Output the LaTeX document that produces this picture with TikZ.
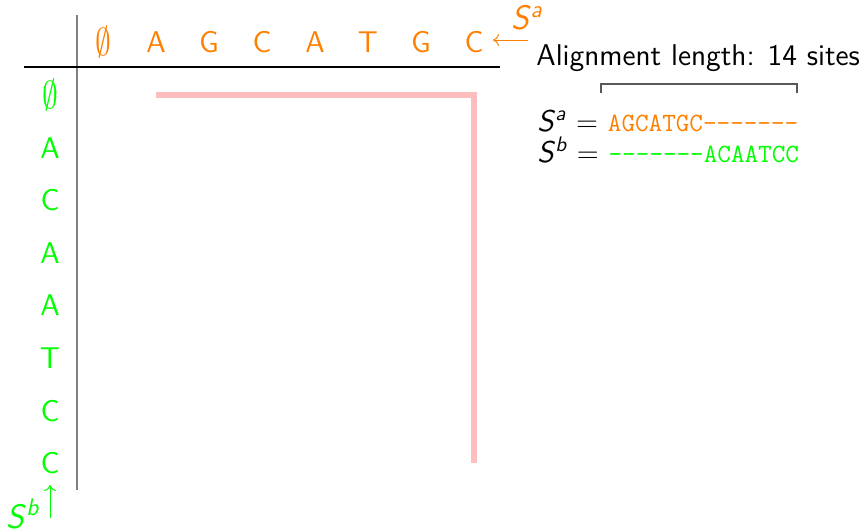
\documentclass[tikz,border=0pt]{standalone}
\usepackage{fontspec}
\usepackage{graphicx}
\usetikzlibrary{arrows.meta}
\renewcommand{\familydefault}{\sfdefault}
\newcommand{\eset}{\scalebox{1.1}[1.35]{$\emptyset$}}
\newcommand{\seqS}[1]{\textit{S}\textsuperscript{\itshape #1}}
\begin{document}
\begin{tikzpicture}[x=0.5pt,y=-0.5pt,
  lab/.style={font=\fontsize{15}{17}\selectfont,inner sep=0pt},
  toplab/.style={lab,text=orange},
  leftlab/.style={lab,text=green},
  bigS/.style={font=\fontsize{17}{19}\selectfont,inner sep=0pt},
  pathline/.style={draw={rgb,255:red,255;green,190;blue,190},line width=3pt},
  seqarrow/.style={-{To[length=3pt,width=6pt]},line width=0.5pt},
  grid/.style={line width=0.6pt}]
\useasboundingbox (0,0) rectangle (866,531);
% grid lines
\coordinate (vtop) at (77,15);
\coordinate (vbot) at (77,490);
\coordinate (hl) at (24,67);
\coordinate (hr) at (500,67);
\draw[grid,gray,line width=1pt] (vtop) -- (vbot);
\draw[grid,black] (hl) -- (hr);
% top labels
\foreach \c [count=\i from 0] in {\eset,A,G,C,A,T,G,C}
  \node[toplab] (t\i) at (103+53*\i,42) {\c};
% left labels
\foreach \c [count=\i from 0] in {\eset,A,C,A,A,T,C,C}
  \node[leftlab] (l\i) at (50,95+52.6*\i) {\c};
% path
\draw[pathline] (t1 |- l0) -- (t7 |- l0) -- (t7 |- l7);
% sequence arrows
\coordinate (sa0) at (528,40);
\coordinate (sa1) at (493,40);
\node[bigS,text=orange] (sa) at (527,18) {\seqS{a}};
\draw[seqarrow,orange] (sa0) -- (sa1);
\coordinate (sb0) at (50,518);
\coordinate (sb1) at (50,485);
\node[bigS,text=green] (sb) at (23,514) {\seqS{b}};
\draw[seqarrow,green] (sb0) -- (sb1);
% alignment text
\node[lab,anchor=west] (al) at (536,58) {Alignment length: 14 sites};
\node[lab,anchor=west] (ra) at (537,121) {\seqS{a} $=$ \textcolor{orange}{\ttfamily\fontsize{13.2}{15}\selectfont AGCATGC-------}};
\node[lab,anchor=west] (rb) at (537,150) {\seqS{b} $=$ \textcolor{green}{\ttfamily\fontsize{13.2}{15}\selectfont -------ACAATCC}};
\coordinate (b1) at (601,93);
\coordinate (b2) at (797,93);
\draw[gray!70!black,line width=0.6pt] (b1) -- ++(0,-9) -| (b2);
\end{tikzpicture}
\end{document}
